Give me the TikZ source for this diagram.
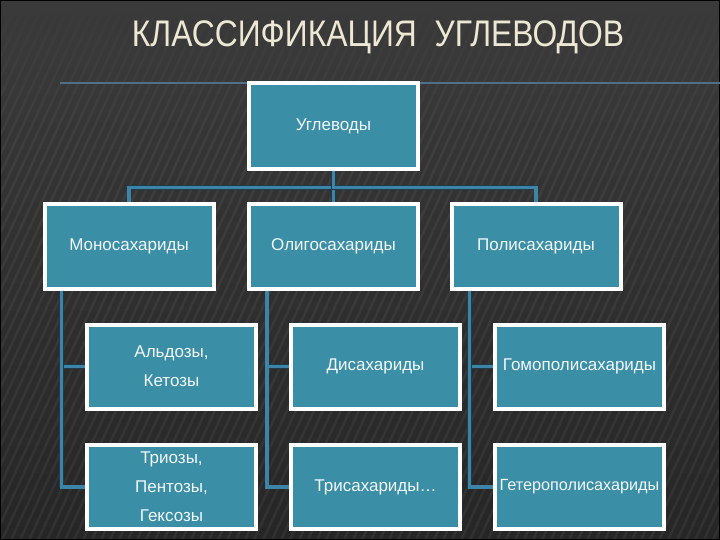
\documentclass[tikz,border=0pt]{standalone}
\usepackage{fontspec}
\setmainfont{Liberation Sans}
\newfontfamily\titlefont[FakeStretch=0.86]{Liberation Sans}
\usepackage{tikz}
\usetikzlibrary{positioning,fadings}

\definecolor{bgtop}{HTML}{3A3A3A}
\definecolor{bgbot}{HTML}{262626}
\definecolor{boxteal}{HTML}{3A8EA6}
\definecolor{linkblue}{HTML}{3C84A8}
\definecolor{linkedge}{HTML}{1E3A48}
\definecolor{rulegray}{HTML}{4F7088}
\definecolor{titlecream}{HTML}{ECE8D4}

\tikzset{
  catbox/.style={draw=white, line width=4pt, fill=boxteal, text=white!94!boxteal,
    minimum width=169pt, minimum height=84pt, inner sep=0pt, align=center,
    font=\fontsize{17}{29}\selectfont},
  link/.style={draw=linkedge, line width=0.8pt, double=linkblue, double distance=3.2pt},
  stripe/.style={white, opacity=0.05, line width=2.5pt}
}

\begin{document}
\begin{tikzpicture}[x=1pt, y=-1pt]
  \useasboundingbox (0,0) rectangle (720,540);
  % фон
  \shade[top color=bgtop, bottom color=bgbot] (0,0) rectangle (720,540);
  \begin{scope}
    \clip (0,0) rectangle (720,540);
    \foreach \i in {0,9,...,980}
      \draw[stripe] ({\i-250},540) -- (\i,0);
  \end{scope}
  \fill[bgtop, path fading=south] (0,0) rectangle (720,150);
  \draw[black, line width=2pt] (0,0) rectangle (720,540);
  % заголовок
  \node[text=titlecream, font=\titlefont\fontsize{37}{40}\selectfont] (title) at (378,37)
    {КЛАССИФИКАЦИЯ\ \ УГЛЕВОДОВ};
  \draw[rulegray, line width=2pt] (60,83) -- (720,83);
  % корень
  \node[catbox, minimum height=86pt] (root) at (333.5,126.5) {Углеводы};
  % второй ряд
  \node[catbox] (mono) at (129,246.5) {Моносахариды};
  \node[catbox] (oligo) at (333.5,246.5) {Олигосахариды};
  \node[catbox] (poly) at (536,246.5) {Полисахариды};
  % третий ряд
  \node[catbox] (aldo) at (171.5,366.5) {Альдозы,\\Кетозы};
  \node[catbox] (di) at (375.5,366.5) {Дисахариды};
  \node[catbox] (homo) at (579.5,366.5) {Гомополисахариды};
  % четвертый ряд
  \node[catbox] (trio) at (171.5,487) {Триозы,\\Пентозы,\\Гексозы};
  \node[catbox] (tri) at (375.5,487) {Трисахариды…};
  \node[catbox, font=\fontsize{16.2}{29}\selectfont] (hetero) at (579.5,487) {Гетерополисахариды};
  % связи
  \draw[link] (root.south) -- ++(0,16) -| (mono.north);
  \draw[link] (root.south) -- (oligo.north);
  \draw[link] (root.south) -- ++(0,16) -| (poly.north);
  \draw[link] ([xshift=19pt]mono.south west) |- (aldo.west);
  \draw[link] ([xshift=19pt]mono.south west) |- (trio.west);
  \draw[link] ([xshift=20pt]oligo.south west) |- (di.west);
  \draw[link] ([xshift=20pt]oligo.south west) |- (tri.west);
  \draw[link] ([xshift=20pt]poly.south west) |- (homo.west);
  \draw[link] ([xshift=20pt]poly.south west) |- (hetero.west);
\end{tikzpicture}
\end{document}
